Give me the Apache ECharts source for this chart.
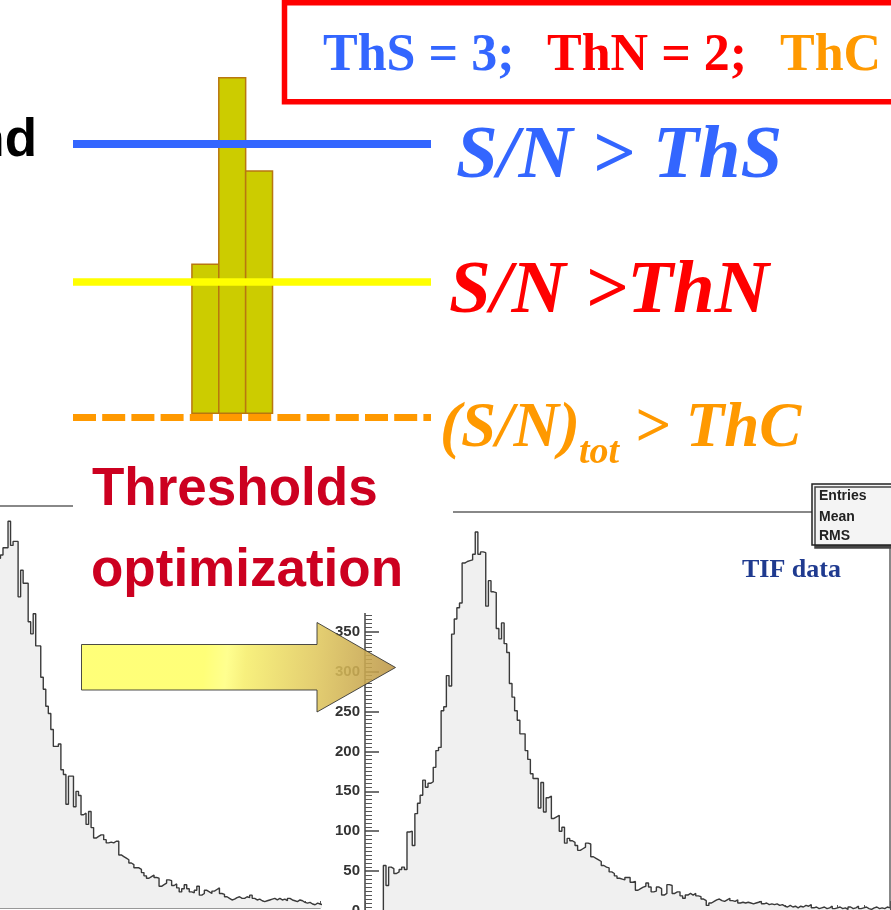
<!DOCTYPE html>
<html>
<head>
<meta charset="utf-8">
<script src="https://cdn.jsdelivr.net/npm/echarts@6/dist/echarts.min.js"></script>
<style>
html,body{margin:0;padding:0;background:#fff;}
#chart{width:891px;height:910px;}
</style>
</head>
<body>
<div id="chart"></div>
<script>
// ---- data ----
const stripIds = [1, 2, 3];
const stripSignal = [2.22, 5.0, 3.61];
const thresholdNames = ['ThS', 'ThN', 'ThC'];
const thresholdLevels = [4.02, 1.96, -0.06];
const thresholdValues = [3, 2];
const condLabels = ['S/N > ThS', 'S/N >ThN', '(S/N)', 'tot', '> ThC'];
const titleLines = ['Thresholds', 'optimization'];
const statsLabels = ['Entries', 'Mean', 'RMS'];
const dataLabel = 'TIF data';
const leftWord = 'nd';

// histogram before optimization (left, partially visible)
const histBeforeCounts = [
  330,350,365,380,395,405,420,428,435,439,
  448,448,481,451,456,456,387,420,404,404,
  356,341,366,326,326,287,272,251,242,222,
  201,201,204,172,166,129,164,164,126,145,
  140,116,118,104,120,100,87,89,91,91,
  85,81,82,81,83,83,66,64,62,60,
  56,54,50,50,48,44,40,37,39,41,
  38,37,27,29,31,35,34,28,30,25,
  20,24,29,24,20,19,22,27,16,18,
  22,20,18,21,23,25,18,17,14,12,
  10,11,13,14,12,12,14,13,16,12,
  10,11,9,8,9,10,11,12,10,12,
  10,11,9,12,10,9,8,10,9,7,
  6,7,5,4,6,5,4
];
// histogram after optimization (right, TIF data)
const histAfterCounts = [
  0,0,0,0,0,0,0,57,32,55,
  53,47,49,52,55,52,99,100,82,122,
  135,145,164,155,160,162,180,201,205,251,
  256,295,282,347,366,380,386,436,438,439,
  440,447,475,447,450,449,382,414,400,399,
  354,341,361,335,324,285,268,251,239,222,
  222,201,190,172,166,166,129,161,124,142,
  144,116,118,120,100,105,85,91,88,86,
  82,76,78,80,85,84,68,66,64,62,
  57,55,54,49,47,44,41,40,39,42,
  42,36,37,26,28,30,31,35,30,24,
  25,30,28,20,22,33,32,22,24,24,
  19,16,20,22,20,22,19,18,15,13,
  7,10,12,14,15,13,12,14,16,13,
  12,14,10,11,10,11,10,9,10,11,
  12,9,10,8,9,8,9,7,8,6,
  5,7,5,6,4,6,5,7,6,8,
  4,5,3,4,5,3,4,6,3,4,
  5,3,4,2,5,3,4,6,3,4,
  5,3,2,4,5,3,4,3,5,4
];

function stepData(counts) {
  const d = counts.map((c, i) => [i, c]);
  d.push([counts.length, counts[counts.length - 1]]);
  return d;
}

const chart = echarts.init(document.getElementById('chart'), null, {renderer: 'canvas'});

const SERIF = '"Liberation Serif", "Times New Roman", serif';
const SANS = '"Liberation Sans", Arial, sans-serif';

function txt(x, y, text, font, fill, align, z) {
  return {
    type: 'text', x: x, y: y, z: z || 20,
    style: {
      text: text, font: font, fill: fill,
      textAlign: align || 'left', align: align || 'left',
      textVerticalAlign: 'middle', verticalAlign: 'middle'
    }
  };
}

const option = {
  animation: false,
  backgroundColor: '#ffffff',
  grid: [
    {left: 73, width: 358, top: 44.1, height: 436.3, outerBoundsMode: 'none', containLabel: false},
    {left: -22.17, width: 342.3, top: 506, height: 402, outerBoundsMode: 'none', containLabel: false},
    {left: 365, width: 525, top: 512, height: 399, outerBoundsMode: 'none', containLabel: false}
  ],
  xAxis: [
    {gridIndex: 0, type: 'value', min: -3.926, max: 9.398, show: false},
    {gridIndex: 1, type: 'value', min: 0, max: 136, interval: 10, position: 'bottom',
      axisLine: {show: true, onZero: false, lineStyle: {color: '#777', width: 1.5}},
      axisTick: {show: true, inside: true, length: 7, lineStyle: {color: '#555', width: 1}},
      axisLabel: {show: false}, splitLine: {show: false}},
    {gridIndex: 1, type: 'value', min: 0, max: 136, position: 'top',
      axisLine: {show: true, onZero: false, lineStyle: {color: '#888', width: 2}},
      axisTick: {show: false}, axisLabel: {show: false}, splitLine: {show: false}},
    {gridIndex: 2, type: 'value', min: 0, max: 200, interval: 50, position: 'bottom',
      axisLine: {show: true, onZero: false, lineStyle: {color: '#555', width: 1.5}},
      axisTick: {show: true, inside: true, length: 10, lineStyle: {color: '#555', width: 1}},
      minorTick: {show: true, splitNumber: 5, length: 6, lineStyle: {color: '#555', width: 1}},
      axisLabel: {show: false}, splitLine: {show: false}},
    {gridIndex: 2, type: 'value', min: 0, max: 200, position: 'top',
      axisLine: {show: true, onZero: false, lineStyle: {color: '#888', width: 2}},
      axisTick: {show: false}, axisLabel: {show: false}, splitLine: {show: false}}
  ],
  yAxis: [
    {gridIndex: 0, type: 'value', min: -1, max: 5.5, show: false},
    {gridIndex: 1, type: 'value', min: 0, max: 500, show: false},
    {gridIndex: 2, type: 'value', min: 0, max: 500, interval: 50, position: 'left',
      axisLine: {show: true, onZero: false, lineStyle: {color: '#444', width: 1.5}},
      axisTick: {show: true, inside: true, length: 14, lineStyle: {color: '#444', width: 1.5}},
      minorTick: {show: true, splitNumber: 10, length: 7, lineStyle: {color: '#555', width: 1}},
      axisLabel: {margin: 5, fontFamily: SANS, fontWeight: 'bold', fontSize: 15, color: '#333'},
      splitLine: {show: false}},
    {gridIndex: 2, type: 'value', min: 0, max: 500, position: 'right',
      axisLine: {show: true, onZero: false, lineStyle: {color: '#888', width: 2}},
      axisTick: {show: false}, axisLabel: {show: false}, splitLine: {show: false}}
  ],
  series: [
    {
      type: 'custom', xAxisIndex: 0, yAxisIndex: 0, z: 2,
      data: stripIds.map((s, i) => [s, stripSignal[i]]),
      renderItem: function (params, api) {
        const s = api.value(0), v = api.value(1);
        const p0 = api.coord([s - 0.5, v]);
        const p1 = api.coord([s + 0.5, 0]);
        return {
          type: 'rect',
          shape: {x: p0[0], y: p0[1], width: p1[0] - p0[0], height: p1[1] - p0[1]},
          style: {fill: '#CCCC00', stroke: '#B8770F', lineWidth: 1.5}
        };
      }
    },
    {
      type: 'line', xAxisIndex: 0, yAxisIndex: 0, z: 5, data: [],
      markLine: {
        silent: true, symbol: ['none', 'none'], label: {show: false}, animation: false,
        data: [
          {name: thresholdNames[0], yAxis: thresholdLevels[0], lineStyle: {color: '#3366FF', width: 8, type: 'solid'}},
          {name: thresholdNames[1], yAxis: thresholdLevels[1], lineStyle: {color: '#FFFF00', width: 7.5, type: 'solid'}},
          {name: thresholdNames[2], yAxis: thresholdLevels[2], lineStyle: {color: '#FF9900', width: 7, type: [23, 6.2]}}
        ]
      }
    },
    {
      type: 'line', xAxisIndex: 1, yAxisIndex: 1, z: 2, step: 'end', symbol: 'none',
      data: stepData(histBeforeCounts),
      lineStyle: {color: '#3a3a3a', width: 1.4},
      areaStyle: {color: '#F0F0F0', opacity: 1}
    },
    {
      type: 'line', xAxisIndex: 3, yAxisIndex: 2, z: 2, step: 'end', symbol: 'none',
      data: stepData(histAfterCounts),
      lineStyle: {color: '#3a3a3a', width: 1.4},
      areaStyle: {color: '#F0F0F0', opacity: 1}
    }
  ],
  graphic: {
    elements: [
      // red box with threshold values
      {type: 'rect', z: 20, shape: {x: 284.5, y: 2.75, width: 700, height: 99},
        style: {fill: 'none', stroke: '#FF0000', lineWidth: 5.5}},
      txt(323, 56.3, thresholdNames[0] + ' = ' + thresholdValues[0] + ';', 'bold 52px ' + SERIF, '#3366FF'),
      txt(547, 56.3, thresholdNames[1] + ' = ' + thresholdValues[1] + ';', 'bold 52px ' + SERIF, '#FF0000'),
      txt(780, 56.3, thresholdNames[2], 'bold 52px ' + SERIF, '#FF9900'),
      // left cut word
      txt(37, 141.6, leftWord, 'bold 53px ' + SANS, '#000000', 'right'),
      // conditions
      txt(456, 157.4, condLabels[0], 'italic bold 75px ' + SERIF, '#3366FF'),
      txt(449, 292.4, condLabels[1], 'italic bold 75px ' + SERIF, '#FF0000'),
      txt(440, 429.7, condLabels[2], 'italic bold 63px ' + SERIF, '#FF9900'),
      txt(579, 453.2, condLabels[3], 'italic bold 38px ' + SERIF, '#FF9900'),
      txt(634, 429.7, condLabels[4], 'italic bold 63px ' + SERIF, '#FF9900'),
      // white block behind "Thresholds optimization"
      {type: 'rect', z: 10, shape: {x: 73, y: 470, width: 380, height: 143},
        style: {fill: '#ffffff', stroke: 'none'}},
      txt(92, 490.6, titleLines[0], 'bold 53px ' + SANS, '#CC0020', 'left', 12),
      txt(91, 570.9, titleLines[1], 'bold 53px ' + SANS, '#CC0020', 'left', 12),
      // arrow
      {type: 'polygon', z: 13,
        shape: {points: [[81.5, 644.5], [317, 644.5], [317, 622.5], [395.5, 667.5], [317, 712], [317, 690], [81.5, 690]]},
        style: {
          fill: {type: 'linear', x: 0, y: 0, x2: 1, y2: 0.3, colorStops: [
            {offset: 0, color: '#FFFF66'}, {offset: 0.4, color: '#FFFF66'},
            {offset: 0.47, color: '#FFFF80'}, {offset: 0.53, color: '#F6EE6C'},
            {offset: 0.75, color: '#E0C85E'}, {offset: 1, color: '#BC9648'}]},
          stroke: '#333333', lineWidth: 1, opacity: 0.88
        }},
      // stats box
      {type: 'rect', z: 10, shape: {x: 812, y: 484, width: 100, height: 61},
        style: {fill: '#F4F4F4', stroke: '#222222', lineWidth: 1.5,
          shadowColor: '#444', shadowOffsetX: 3, shadowOffsetY: 3, shadowBlur: 0}},
      txt(819, 496, statsLabels[0], 'bold 14px ' + SANS, '#222', 'left', 11),
      txt(819, 517, statsLabels[1], 'bold 14px ' + SANS, '#222', 'left', 11),
      txt(819, 536, statsLabels[2], 'bold 14px ' + SANS, '#222', 'left', 11),
      txt(742, 570.2, dataLabel, 'bold 26px ' + SERIF, '#1F3A8F', 'left', 11)
    ]
  }
};
chart.setOption(option);
</script>
</body>
</html>
